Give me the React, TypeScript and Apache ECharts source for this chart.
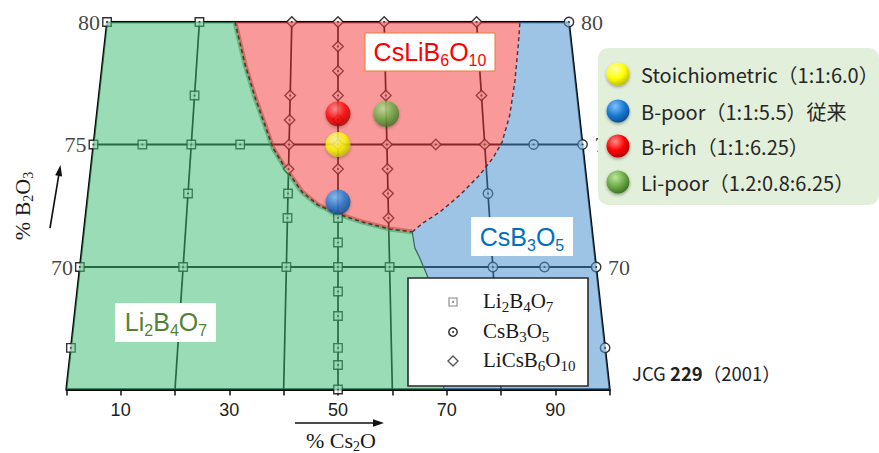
import React, { useEffect, useRef } from 'react';
import * as echarts from 'echarts';

// ---------------- data (x: % Cs2O, y: % B2O3) ----------------
const xTickLabels = [10, 30, 50, 70, 90];
const edgeLabelsB = [80, 75, 70];
const isoB = [80, 75, 70, 65]; // lines of constant B2O3
const isoC = [0, 20, 40, 50, 60, 80, 100]; // lines of constant Cs2O

const li2b4o7Pts: [number, number][] = [
  [0, 80], [20, 80], [0, 75], [10, 75], [20, 75], [30, 75], [20, 77], [20, 73],
  [40, 73], [40, 72], [50, 72], [50, 71], [50, 70], [50, 69], [50, 68], [50, 66.7],
  [50, 66], [50, 65], [0, 70], [20, 70], [40, 70], [60, 70], [0, 66.7],
];
const csb3o5Pts: [number, number][] = [
  [100, 80], [90, 75], [100, 75], [80, 73], [80, 70], [90, 70], [100, 70], [100, 66.7],
];
const licsb6o10Pts: [number, number][] = [
  [40, 80], [50, 80], [60, 80], [80, 80], [40, 77], [40, 76], [40, 75], [40, 74],
  [50, 79], [50, 78], [50, 77], [50, 76], [50, 75], [50, 74], [60, 77], [60, 75],
  [60, 74], [60, 73], [60, 72], [70, 75], [80, 77], [80, 75],
];

// phase boundaries
const boundaryLiCsLi: [number, number][] = [
  [27.7, 80], [30.3, 78.24], [32.7, 76.9], [34.9, 75.8], [36.7, 74.86], [39.3, 74.04],
  [42.8, 73.06], [46.0, 72.53], [50, 72.16], [54.7, 71.84], [60.2, 71.55], [64.6, 71.43],
];
const boundaryCsbLiCs: [number, number][] = [
  [64.6, 71.43], [66.8, 71.8], [70.2, 72.24], [74.4, 72.94], [78.6, 73.76], [81.5, 74.45],
  [83.6, 75.1], [85.6, 76.2], [87.2, 77.55], [88.5, 78.94], [89.4, 80],
];
const boundaryLiCsb: [number, number][] = [
  [64.6, 71.43], [65.0, 70.78], [65.9, 70.37], [67.4, 69.55], [68.5, 67.3], [69.5, 65],
];

// experimental compositions
const ballLabels = [
  'Stoichiometric（1:1:6.0）',
  'B-poor（1:1:5.5）従来',
  'B-rich（1:1:6.25）',
  'Li-poor（1.2:0.8:6.25）',
];
const ballCs = [50, 50, 50, 60];
const ballB = [75, 72.65, 76.25, 76.25];
const ballColors = [
  ['#ffffb0', '#ffff00', '#b8b800'],
  ['#7fc0ff', '#1a78d2', '#0b4a8c'],
  ['#ff9090', '#ff0000', '#a80000'],
  ['#bfe59c', '#6aab45', '#3b6e22'],
];

const phaseNames = ['Li2B4O7', 'CsB3O5', 'LiCsB6O10'];

// ---------------- helpers ----------------
const B_LO = 65;
const B_HI = 80;
const TOP_WIDTH = 0.85; // relative width of the diagram at B2O3 = 80
const proj = (c: number, b: number): [number, number] => [
  50 + (c - 50) * (1 - (1 - TOP_WIDTH) * (b - B_LO) / (B_HI - B_LO)),
  b,
];

const SERIF = '"Liberation Serif", "Times New Roman", serif';
const SANS = '"Liberation Sans", Arial, sans-serif';
const JP = '"Noto Sans CJK JP", "Noto Sans", sans-serif';

const chem = (f: string) =>
  ('{n|' + f.replace(/(\d+)/g, '}{s|$1}{n|') + '}').replace(/\{n\|\}/g, '');

const ballGradient = (i: number) =>
  new echarts.graphic.RadialGradient(0.38, 0.3, 0.75, [
    { offset: 0, color: ballColors[i][0] },
    { offset: 0.55, color: ballColors[i][1] },
    { offset: 1, color: ballColors[i][2] },
  ]);

function buildOption() {
  const lineS = (pts: [number, number][], lineStyle: any, z: number) => ({
    type: 'line',
    data: pts.map(([c, b]) => proj(c, b)),
    symbol: 'none',
    showSymbol: false,
    silent: true,
    lineStyle,
    z,
  });

  const series: any[] = [];
  // grid lines
  isoB.forEach((b) => {
    const edge = b === 80 || b === 65;
    series.push(lineS([[0, b], [100, b]], { color: '#000', width: edge ? 2.4 : 1.8 }, 1));
  });
  isoC.forEach((c) => {
    const edge = c === 0 || c === 100;
    series.push(lineS([[c, 65], [c, 80]], { color: '#000', width: edge ? 2 : 1.7 }, 1));
  });
  // phase boundaries
  series.push(lineS(boundaryLiCsLi, { color: 'rgba(95,85,55,0.55)', width: 5 }, 1));
  series.push(lineS(boundaryLiCsLi, { color: '#000', width: 1.8, type: [4, 3] }, 1));
  series.push(lineS(boundaryCsbLiCs, { color: '#000', width: 1.5, type: [4, 3] }, 1));
  series.push(lineS(boundaryLiCsb, { color: '#222', width: 1.2 }, 1));

  // markers
  const markerBase = {
    type: 'scatter',
    silent: true,
    z: 2,
    itemStyle: { color: '#ffffff', borderColor: '#000', borderWidth: 1.4 },
  };
  series.push({ ...markerBase, symbol: 'rect', symbolSize: 8.5, data: li2b4o7Pts.map(([c, b]) => proj(c, b)) });
  series.push({ ...markerBase, symbol: 'circle', symbolSize: 9.5, data: csb3o5Pts.map(([c, b]) => proj(c, b)) });
  series.push({ ...markerBase, symbol: 'diamond', symbolSize: 10.5, data: licsb6o10Pts.map(([c, b]) => proj(c, b)) });
  series.push({
    type: 'scatter',
    silent: true,
    z: 2,
    symbol: 'circle',
    symbolSize: 2.2,
    itemStyle: { color: '#111' },
    data: [...li2b4o7Pts, ...csb3o5Pts, ...licsb6o10Pts].map(([c, b]) => proj(c, b)),
  });

  // edge labels (B2O3 %)
  const edgeLabel = (c: number, pos: string, dist: number) => ({
    type: 'scatter',
    silent: true,
    z: 2,
    symbolSize: 8,
    itemStyle: { color: 'rgba(0,0,0,0)' },
    data: edgeLabelsB.map((b) => proj(c, b)),
    label: {
      show: true,
      position: pos,
      distance: dist,
      formatter: (p: any) => String(p.value[1]),
      fontFamily: SERIF,
      fontSize: 22,
      color: '#111',
    },
  });
  series.push(edgeLabel(0, 'left', 3));
  series.push(edgeLabel(100, 'right', 8));

  // region fills (translucent overlays)
  const greenPoly = [[0, 80], ...boundaryLiCsLi, ...boundaryLiCsb.slice(1), [0, 65]];
  const redPoly = [...boundaryLiCsLi, ...boundaryCsbLiCs.slice(1)];
  const bluePoly = [[100, 80], ...boundaryCsbLiCs.slice().reverse(), ...boundaryLiCsb.slice(1), [100, 65]];
  const regions = [
    { pts: greenPoly, fill: 'rgba(71,191,122,0.55)', anchor: [20, 70] },
    { pts: redPoly, fill: 'rgba(244,70,70,0.55)', anchor: [60, 78] },
    { pts: bluePoly, fill: 'rgba(77,146,208,0.55)', anchor: [90, 70] },
  ];
  series.push({
    type: 'custom',
    coordinateSystem: 'cartesian2d',
    silent: true,
    z: 3,
    encode: { x: 0, y: 1 },
    data: regions.map((r) => r.anchor),
    renderItem: (params: any, api: any) => {
      const r = regions[params.dataIndex];
      const points = r.pts.map(([c, b]: any) => api.coord(proj(c, b)));
      return { type: 'polygon', shape: { points }, style: { fill: r.fill } };
    },
  });

  // composition balls
  series.push({
    type: 'scatter',
    silent: true,
    z: 5,
    data: ballCs.map((c, i) => ({
      value: proj(c, ballB[i]),
      symbolSize: i === 3 ? 26 : 25,
      itemStyle: {
        color: ballGradient(i),
        shadowBlur: 3,
        shadowColor: 'rgba(0,0,0,0.35)',
        shadowOffsetY: 1.5,
      },
    })),
  });

  const sub = (size: number, fill: string, family: string, pad: number, ratio = 0.62) => ({
    n: { fontSize: size, fontFamily: family, fill },
    s: { fontSize: Math.round(size * ratio), fontFamily: family, fill, padding: [pad, 0, 0, 0] },
  });

  const graphic: any[] = [
    // phase labels
    { type: 'rect', z: 20, shape: { x: 365, y: 33, width: 130, height: 38 }, style: { fill: '#fff', stroke: '#ed7d31', lineWidth: 1 } },
    { type: 'text', z: 21, x: 430, y: 52, style: { text: chem('CsLiB6O10'), align: 'center', verticalAlign: 'middle', fontSize: 25, fontFamily: SANS, fill: '#ff0000', rich: sub(25, '#ff0000', SANS, 17) } },
    { type: 'rect', z: 20, shape: { x: 471, y: 217, width: 102, height: 39 }, style: { fill: '#fff' } },
    { type: 'text', z: 21, x: 522, y: 237, style: { text: chem('CsB3O5'), align: 'center', verticalAlign: 'middle', fontSize: 25, fontFamily: SANS, fill: '#0070c0', rich: sub(25, '#0070c0', SANS, 17) } },
    { type: 'rect', z: 20, shape: { x: 115, y: 303, width: 101, height: 39 }, style: { fill: '#fff' } },
    { type: 'text', z: 21, x: 166, y: 322, style: { text: chem('Li2B4O7'), align: 'center', verticalAlign: 'middle', fontSize: 25, fontFamily: SANS, fill: '#548235', rich: sub(25, '#548235', SANS, 17) } },

    // in-plot symbol legend
    { type: 'rect', z: 20, shape: { x: 408, y: 278, width: 180, height: 108 }, style: { fill: '#fff', stroke: '#2a2a2a', lineWidth: 1.6 } },
    { type: 'rect', z: 21, shape: { x: 449, y: 298, width: 8, height: 8 }, style: { fill: '#fff', stroke: '#888', lineWidth: 1.1 } },
    { type: 'circle', z: 22, shape: { cx: 453, cy: 302, r: 1 }, style: { fill: '#888' } },
    { type: 'circle', z: 21, shape: { cx: 453, cy: 332, r: 4.2 }, style: { fill: '#fff', stroke: '#333', lineWidth: 1.5 } },
    { type: 'circle', z: 22, shape: { cx: 453, cy: 332, r: 1 }, style: { fill: '#333' } },
    { type: 'polygon', z: 21, shape: { points: [[453, 356], [458, 361], [453, 366], [448, 361]] }, style: { fill: '#fff', stroke: '#555', lineWidth: 1.4 } },
    ...phaseNames.map((name, i) => ({
      type: 'text',
      z: 21,
      x: 483,
      y: [301, 331, 360][i],
      style: { text: chem(name), align: 'left', verticalAlign: 'middle', fontSize: 21, fontFamily: SERIF, fill: '#1a1a1a', rich: sub(21, '#1a1a1a', SERIF, 12, 0.7) },
    })),

    // composition legend (right)
    { type: 'rect', z: 20, shape: { x: 598, y: 48, width: 281, height: 157, r: 10 }, style: { fill: '#e2efda' } },
    ...ballLabels.flatMap((label, i) => {
      const cy = [74, 111, 146, 182][i];
      return [
        { type: 'circle', z: 21, shape: { cx: 618, cy, r: 11.5 }, style: { fill: ballGradient(i), shadowBlur: 3, shadowColor: 'rgba(0,0,0,0.35)', shadowOffsetY: 1.5 } },
        { type: 'text', z: 21, x: 641, y: cy, style: { text: label, align: 'left', verticalAlign: 'middle', fontSize: 20, fontFamily: JP, fill: '#262626' } },
      ];
    }),

    // citation
    { type: 'text', z: 21, x: 632, y: 373, style: { text: '{a|JCG }{b|229}{a|（2001）}', align: 'left', verticalAlign: 'middle', rich: { a: { fontSize: 18.5, fontFamily: JP, fill: '#222' }, b: { fontSize: 18.5, fontFamily: JP, fontWeight: 'bold', fill: '#222' } } } },

    // x-axis title and arrow
    { type: 'text', z: 21, x: 341, y: 440, style: { text: chem('% Cs2O'), align: 'center', verticalAlign: 'middle', fontSize: 22, fontFamily: SERIF, fill: '#1a1a1a', rich: sub(22, '#1a1a1a', SERIF, 12) } },
    { type: 'line', z: 21, shape: { x1: 295, y1: 423, x2: 376, y2: 423 }, style: { stroke: '#111', lineWidth: 1.6 } },
    { type: 'polygon', z: 21, shape: { points: [[384, 423], [373, 419.3], [373, 426.7]] }, style: { fill: '#111' } },

    // y-axis title and arrow
    { type: 'text', z: 21, x: 22, y: 206, rotation: Math.PI / 2, style: { text: chem('% B2O3'), align: 'center', verticalAlign: 'middle', fontSize: 22, fontFamily: SERIF, fill: '#1a1a1a', rich: sub(22, '#1a1a1a', SERIF, 12) } },
    { type: 'line', z: 21, shape: { x1: 50, y1: 228, x2: 58.8, y2: 175 }, style: { stroke: '#111', lineWidth: 1.6 } },
    { type: 'polygon', z: 21, shape: { points: [[60.5, 165], [62.1, 176.4], [55.2, 175.3]] }, style: { fill: '#111' } },
  ];

  return {
    animation: false,
    backgroundColor: '#ffffff',
    grid: { left: 66.3, top: 22, width: 543.4, height: 367.5, containLabel: false, outerBoundsMode: 'none' },
    xAxis: {
      type: 'value',
      min: 0,
      max: 100,
      interval: 10,
      splitLine: { show: false },
      axisLine: { show: true, lineStyle: { color: '#111', width: 2 } },
      axisTick: { show: true, length: 6, inside: false, lineStyle: { color: '#111', width: 1.5 } },
      axisLabel: {
        margin: 11,
        fontFamily: SANS,
        fontSize: 18,
        color: '#222',
        formatter: (v: number) => (xTickLabels.includes(v) ? String(v) : ''),
      },
    },
    yAxis: { type: 'value', min: B_LO, max: B_HI, show: false },
    series,
    graphic,
  };
}

export default function App() {
  const ref = useRef<HTMLDivElement>(null);
  useEffect(() => {
    const chart = echarts.init(ref.current!, null, { renderer: 'svg' });
    chart.setOption(buildOption() as any);
    return () => chart.dispose();
  }, []);
  return (
    <div
      ref={ref}
      style={{ position: 'absolute', left: 0, top: 0, width: 879, height: 453, background: '#fff' }}
    />
  );
}
